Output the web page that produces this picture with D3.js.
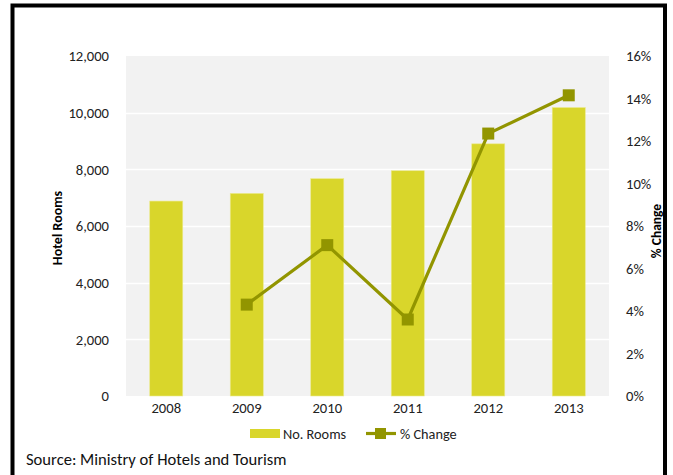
<!DOCTYPE html>
<html>
<head>
<meta charset="utf-8">
<script src="https://cdn.jsdelivr.net/npm/d3@7/dist/d3.min.js"></script>
<style>
  html, body { margin: 0; padding: 0; background: #fff; }
  svg { display: block; font-family: Carlito, Lato, "Open Sans", sans-serif; }
</style>
</head>
<body>
<svg id="chart" width="673" height="475"></svg>
<script>
// Hotel rooms by year and the annual % change
const years = ["2008", "2009", "2010", "2011", "2012", "2013"];
const rooms = [6880, 7150, 7670, 7950, 8900, 10180];
const pctChange = [null, 4.3, 7.1, 3.6, 12.35, 14.15];
const leftTicks = [0, 2000, 4000, 6000, 8000, 10000, 12000];
const rightTicks = [0, 2, 4, 6, 8, 10, 12, 14, 16];

const svg = d3.select("#chart");
const plot = { left: 126, right: 609, top: 56, bottom: 396 };

const barColor = "#d9d62b";
const lineColor = "#929500";
const tickFont = 14.6;

// outer frame
svg.append("path")
  .attr("d", "M12.5,475 L12.5,5.5 L665,5.5 L665,475")
  .attr("fill", "none").attr("stroke", "#000").attr("stroke-width", 4);

const x = d3.scaleBand().domain(years).range([plot.left, plot.right]).paddingInner(0.59).paddingOuter(0.295);
const yL = d3.scaleLinear().domain([0, 12000]).range([plot.bottom, plot.top]);
const yR = d3.scaleLinear().domain([0, 16]).range([plot.bottom, plot.top]);

// plot background
svg.append("rect")
  .attr("x", plot.left).attr("y", plot.top)
  .attr("width", plot.right - plot.left).attr("height", plot.bottom - plot.top)
  .attr("fill", "#f2f2f2");

// white gridlines
svg.append("g").selectAll("line").data(leftTicks.slice(1, -1)).join("line")
  .attr("x1", plot.left).attr("x2", plot.right)
  .attr("y1", d => Math.round(yL(d)) + 0.5).attr("y2", d => Math.round(yL(d)) + 0.5)
  .attr("stroke", "#fff").attr("stroke-width", 1.5);
svg.append("line")
  .attr("x1", plot.right + 1).attr("x2", plot.right + 1)
  .attr("y1", plot.top).attr("y2", plot.bottom)
  .attr("stroke", "#fff").attr("stroke-width", 1.5);

// bars
svg.append("g").selectAll("rect").data(years).join("rect")
  .attr("x", d => x(d))
  .attr("width", x.bandwidth())
  .attr("y", (d, i) => yL(rooms[i]))
  .attr("height", (d, i) => plot.bottom - yL(rooms[i]))
  .attr("fill", barColor)
  .attr("stroke", "#ece98a").attr("stroke-width", 0.6);

// % change line
const pts = years.map((d, i) => ({ year: d, v: pctChange[i] })).filter(p => p.v != null);
const line = d3.line().x(p => x(p.year) + x.bandwidth() / 2).y(p => yR(p.v));
svg.append("path").datum(pts)
  .attr("d", line).attr("fill", "none")
  .attr("stroke", lineColor).attr("stroke-width", 3.2);
svg.append("g").selectAll("rect").data(pts).join("rect")
  .attr("x", p => x(p.year) + x.bandwidth() / 2 - 6)
  .attr("y", p => yR(p.v) - 6)
  .attr("width", 12).attr("height", 12)
  .attr("fill", lineColor);

// left axis
const axL = svg.append("g").attr("transform", `translate(${plot.left - 14},0)`)
  .call(d3.axisLeft(yL).tickValues(leftTicks).tickSize(0).tickFormat(d3.format(",")));
axL.select(".domain").remove();
axL.selectAll("text").attr("font-size", tickFont).attr("fill", "#222").attr("font-family", "Carlito, Lato, sans-serif");

// right axis
const axR = svg.append("g").attr("transform", `translate(${plot.right + 14},0)`)
  .call(d3.axisRight(yR).tickValues(rightTicks).tickSize(0).tickFormat(d => d + "%"));
axR.select(".domain").remove();
axR.selectAll("text").attr("font-size", tickFont).attr("fill", "#222").attr("font-family", "Carlito, Lato, sans-serif");

// bottom axis
const axB = svg.append("g").attr("transform", `translate(0,${plot.bottom + 4})`)
  .call(d3.axisBottom(x).tickSize(0));
axB.select(".domain").remove();
axB.selectAll("text").attr("font-size", tickFont).attr("fill", "#222").attr("font-family", "Carlito, Lato, sans-serif");

// axis titles
svg.append("text")
  .attr("transform", "translate(62,228) rotate(-90)")
  .attr("text-anchor", "middle").attr("font-size", 14).attr("font-weight", "bold")
  .text("Hotel Rooms");
svg.append("text")
  .attr("transform", "translate(661,231) rotate(-90)")
  .attr("text-anchor", "middle").attr("font-size", 13.5).attr("font-weight", "bold")
  .text("% Change");

// legend
const lg = svg.append("g").attr("font-size", 14.3).attr("fill", "#222");
lg.append("rect").attr("x", 250).attr("y", 429).attr("width", 30).attr("height", 9).attr("fill", barColor);
lg.append("text").attr("x", 283).attr("y", 438.5).text("No. Rooms");
lg.append("line").attr("x1", 366).attr("x2", 396).attr("y1", 433.5).attr("y2", 433.5)
  .attr("stroke", lineColor).attr("stroke-width", 3.2);
lg.append("rect").attr("x", 375).attr("y", 428).attr("width", 11).attr("height", 11).attr("fill", lineColor);
lg.append("text").attr("x", 400).attr("y", 438.5).text("% Change");

// source note
svg.append("text")
  .attr("x", 26).attr("y", 465).attr("font-size", 16.6).attr("fill", "#111")
  .text("Source: Ministry of Hotels and Tourism");
</script>
</body>
</html>
